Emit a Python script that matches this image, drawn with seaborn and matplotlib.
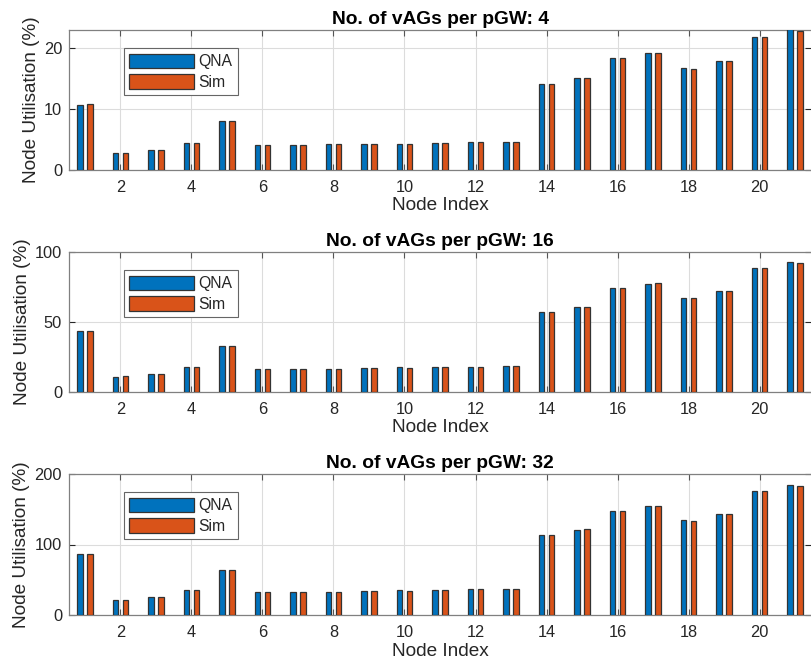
import numpy as np
import pandas as pd
import matplotlib
matplotlib.use("Agg")
import matplotlib.pyplot as plt
import seaborn as sns
from matplotlib.patches import Patch

nodes = list(range(1, 22))
series_names = ["QNA", "Sim"]
panel_titles = ["No. of vAGs per pGW: 4", "No. of vAGs per pGW: 16", "No. of vAGs per pGW: 32"]

qna_4 = [10.7, 2.73, 3.28, 4.48, 7.98, 4.1, 4.1, 4.2, 4.26, 4.32, 4.43, 4.54, 4.6,
         14.2, 15.1, 18.4, 19.2, 16.7, 17.9, 21.9, 23.1]
sim_4 = [10.8, 2.79, 3.28, 4.37, 7.98, 4.1, 4.1, 4.2, 4.26, 4.26, 4.37, 4.54, 4.54,
         14.2, 15.1, 18.4, 19.3, 16.6, 17.9, 21.9, 22.8]
qna_16 = [43.3, 11.0, 13.2, 17.9, 32.5, 16.5, 16.5, 16.7, 17.0, 17.5, 17.5, 18.2, 18.7,
          56.9, 60.8, 74.2, 77.3, 67.5, 72.2, 88.5, 92.8]
sim_16 = [43.5, 11.2, 13.2, 17.7, 32.5, 16.5, 16.5, 16.7, 17.0, 17.2, 17.5, 18.2, 18.4,
          56.9, 61.0, 74.2, 78.0, 67.0, 72.2, 88.8, 92.1]
qna_32 = [86.2, 21.9, 26.2, 35.2, 64.3, 32.4, 32.4, 33.3, 33.8, 34.8, 34.8, 36.2, 36.7,
          113.8, 121.0, 147.6, 154.3, 134.3, 142.9, 175.7, 184.8]
sim_32 = [86.7, 21.9, 26.2, 35.2, 64.3, 32.4, 32.4, 33.3, 33.8, 34.3, 34.8, 36.2, 36.2,
          113.8, 121.4, 147.6, 155.2, 133.8, 142.9, 176.2, 182.4]

panels = [(qna_4, sim_4), (qna_16, sim_16), (qna_32, sim_32)]
ylims = [23, 100, 200]
yticks_list = [[0, 10, 20], [0, 50, 100], [0, 100, 200]]
xticks = [2, 4, 6, 8, 10, 12, 14, 16, 18, 20]

colors = ["#0072BD", "#D95319"]
axis_color = "#262626"

sns.set_theme(style="white")
plt.rcParams['font.family'] = ['Liberation Sans', 'DejaVu Sans']

W, H = 811, 669
fig = plt.figure(figsize=(W / 100, H / 100), dpi=100)

tops = [30, 252, 474]
bottoms = [170, 392, 615]
left_px = 69

for i, ((q, s), ttl) in enumerate(zip(panels, panel_titles)):
    ax = fig.add_axes([left_px / W, 1 - bottoms[i] / H, 1 - left_px / W, (bottoms[i] - tops[i]) / H])
    df = pd.DataFrame({
        "Node": nodes * 2,
        "Util": list(q) + list(s),
        "Series": [series_names[0]] * len(nodes) + [series_names[1]] * len(nodes),
    })
    sns.barplot(data=df, x="Node", y="Util", hue="Series", native_scale=True,
                palette=colors, width=0.572, gap=0.46, edgecolor="#333333",
                linewidth=0.9, saturation=1, ax=ax, legend=False, zorder=3)
    ax.set_xlim(0.55, 21.45)
    ax.set_ylim(0, ylims[i])
    ax.set_xticks(xticks)
    ax.set_yticks(yticks_list[i])
    ax.grid(True, color="#dcdcdc", linewidth=0.8, zorder=0)
    ax.set_axisbelow(True)
    ax.tick_params(axis="both", direction="in", length=4.3, width=0.8,
                   colors=axis_color, labelsize=11.8, top=True, right=True,
                   bottom=True, left=True, pad=5)
    ax.tick_params(axis="x", colors="#555555", labelcolor=axis_color, pad=7)
    for sp in ["left", "top", "bottom"]:
        ax.spines[sp].set_color("#808080")
        ax.spines[sp].set_linewidth(0.9)
    ax.spines["right"].set_visible(False)
    ax.set_xlabel("Node Index", fontsize=13.7, color=axis_color, labelpad=2)
    ax.set_ylabel("Node Utilisation (%)", fontsize=13.7, color=axis_color, labelpad=3)
    ax.set_title(ttl, fontsize=13.8, fontweight="bold", color="black", pad=4)
    handles = [Patch(facecolor=colors[0], edgecolor="#333333", linewidth=0.9),
               Patch(facecolor=colors[1], edgecolor="#333333", linewidth=0.9)]
    leg = ax.legend(handles, series_names, loc="upper left",
                    bbox_to_anchor=(0.074, 0.87), fontsize=11.3, frameon=True,
                    fancybox=False, edgecolor="#666666", framealpha=1,
                    handlelength=4.1, handleheight=1.05, handletextpad=0.3,
                    borderpad=0.35, labelspacing=0.3, borderaxespad=0)
    leg.get_frame().set_linewidth(0.8)

fig.savefig("out.png", dpi=100)
